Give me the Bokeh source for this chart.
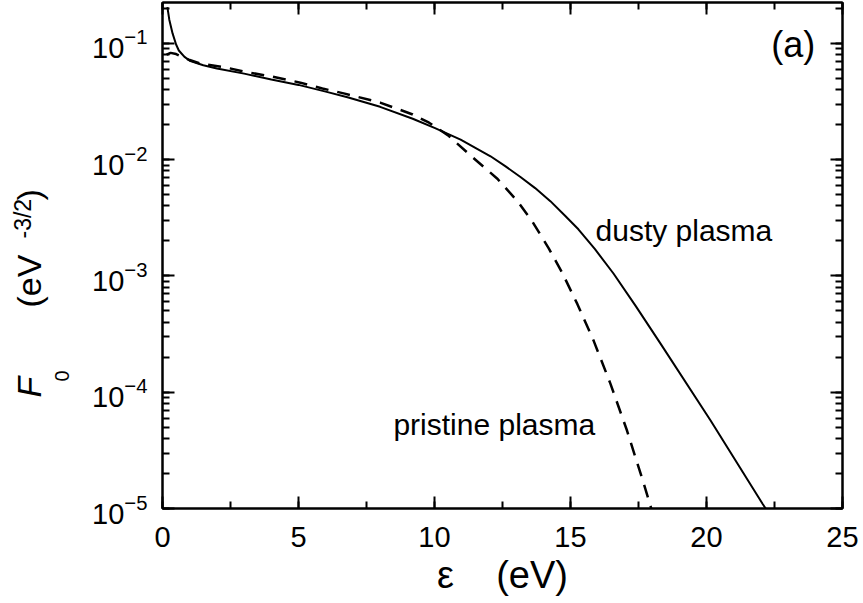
import math
from bokeh.plotting import figure
from bokeh.layouts import row
from bokeh.models import (Label, LinearAxis, LogAxis, SingleIntervalTicker,
                          LogTicker, Range1d, CustomJSTickFormatter)
from bokeh.embed import file_html
from bokeh.resources import INLINE

# ---- data ----
dusty_e = [0.18, 0.25, 0.37, 0.5, 0.6, 0.8, 1.0, 1.5, 2.0, 3.0, 4.0, 5.0,
           6.0, 6.8, 8.0, 9.2, 10.0, 10.96, 12.06, 12.6, 13.16, 13.7, 14.26,
           14.8, 15.29, 15.9, 16.58, 17.4, 18.31, 20.15, 22.06, 22.2]
dusty_f = [0.205, 0.16, 0.122, 0.098, 0.087, 0.077, 0.071, 0.065, 0.061,
           0.055, 0.049, 0.044, 0.0385, 0.0345, 0.0285, 0.0225, 0.0188,
           0.0149, 0.0107, 0.0088, 0.0071, 0.0057, 0.0044, 0.0033, 0.00252,
           0.00170, 0.00105, 0.00055, 0.000262, 0.0000571, 0.0000110,
           0.0000098]

prist_e = [0.15, 0.3, 0.5, 0.7, 1.0, 1.4, 2.24, 3.1, 4.0, 5.07, 5.88, 6.7,
           8.0, 9.2, 9.8, 10.5, 11.4, 12.3, 13.05, 13.6, 14.2, 14.7, 15.25,
           15.86, 16.47, 17.08, 17.7, 17.97]
prist_f = [0.080, 0.083, 0.081, 0.077, 0.072, 0.067, 0.0627, 0.0567, 0.052,
           0.046, 0.041, 0.037, 0.031, 0.0245, 0.0208, 0.0162, 0.0105,
           0.0069, 0.0044, 0.00293, 0.00173, 0.00106, 0.000575, 0.000274,
           0.000118, 0.0000466, 0.0000162, 0.00001]

x_start, x_end = 0, 25
y_start, y_end = 1e-5, 0.225
x_tick_interval = 5

FONT = "Liberation Sans"
LAB_W = 80
TOP_B, BOT_B = 2, 94
H = 602

p = figure(width=862 - LAB_W, height=H, y_axis_type="log",
           x_range=Range1d(x_start, x_end), y_range=Range1d(y_start, y_end),
           output_backend="svg", toolbar_location=None,
           min_border_left=162 - LAB_W, min_border_right=20,
           min_border_top=TOP_B, min_border_bottom=BOT_B)

p.xgrid.visible = False
p.ygrid.visible = False
p.outline_line_color = "black"
p.outline_line_width = 2
p.background_fill_color = "white"
p.border_fill_color = "white"

blank = CustomJSTickFormatter(code="return '';")


def style_axis(ax, show_labels=True):
    ax.axis_line_color = "black"
    ax.axis_line_width = 2
    ax.major_tick_in = 12
    ax.major_tick_out = 0
    ax.minor_tick_in = 7
    ax.minor_tick_out = 0
    ax.major_tick_line_color = "black"
    ax.minor_tick_line_color = "black"
    ax.major_tick_line_width = 2
    ax.minor_tick_line_width = 2
    ax.major_label_text_font = FONT
    ax.major_label_text_color = "black"
    if show_labels:
        ax.major_label_text_font_size = "29px"
    else:
        ax.formatter = blank
        ax.major_label_text_font_size = "1px"
        ax.major_label_standoff = 0


xa = p.xaxis[0]
xa.ticker = SingleIntervalTicker(interval=x_tick_interval, num_minor_ticks=2)
style_axis(xa)
xa.major_label_standoff = 18
xa.axis_label = "\u03b5\u00a0\u00a0\u00a0\u00a0(eV)"
xa.axis_label_text_font = FONT
xa.axis_label_text_font_size = "38px"
xa.axis_label_text_font_style = "normal"
xa.axis_label_text_color = "black"
xa.axis_label_standoff = 4

ya = p.yaxis[0]
ya.ticker = LogTicker(num_minor_ticks=10)
style_axis(ya)
ya.major_label_standoff = 15

top = LinearAxis(ticker=SingleIntervalTicker(interval=x_tick_interval,
                                             num_minor_ticks=2))
style_axis(top, show_labels=False)
p.add_layout(top, "above")

right = LogAxis(ticker=LogTicker(num_minor_ticks=10))
style_axis(right, show_labels=False)
p.add_layout(right, "right")

# ---- curves ----
p.line(dusty_e, dusty_f, line_color="black", line_width=2)
p.line(prist_e, prist_f, line_color="black", line_width=2.5,
       line_dash="13 9")

# ---- annotations ----
p.add_layout(Label(x=15.92, y=2.46e-3, text="dusty plasma", text_font=FONT,
                   text_font_size="30px", text_color="black",
                   text_baseline="middle"))
p.add_layout(Label(x=8.49, y=5.28e-5, text="pristine plasma", text_font=FONT,
                   text_font_size="30px", text_color="black",
                   text_baseline="middle"))
p.add_layout(Label(x=24.0, y=0.098, text="(a)", text_font=FONT,
                   text_font_size="36px", text_color="black",
                   text_align="right", text_baseline="middle"))

# ---- y-axis title in a narrow strip left of the plot (page pixel units) ----
# the strip's frame is aligned with the main frame (page y 2 .. 508)
lab = figure(width=LAB_W, height=H, x_range=Range1d(0, LAB_W),
             y_range=Range1d(H - BOT_B, TOP_B), x_axis_location=None,
             y_axis_location=None, output_backend="svg",
             toolbar_location=None, min_border_left=0, min_border_right=0,
             min_border_top=TOP_B, min_border_bottom=BOT_B)
lab.xgrid.visible = False
lab.ygrid.visible = False
lab.outline_line_color = None
lab.background_fill_color = "white"
lab.border_fill_color = "white"

ang = math.pi / 2
ylabel_parts = [
    ("F", 28, 397, "34px", "italic"),
    ("0", 61, 381, "20px", "normal"),
    ("(eV", 28, 307, "34px", "normal"),
    ("-3/2", 22, 238, "23px", "normal"),
    (")", 28, 200, "34px", "normal"),
]
for txt, sx, sy, fs, style in ylabel_parts:
    lab.add_layout(Label(x=sx, y=sy, text=txt, angle=ang, text_font=FONT,
                         text_font_size=fs, text_font_style=style,
                         text_color="black", text_align="left",
                         text_baseline="middle"))

layout = row(lab, p, spacing=0)
open("out.html", "w").write(file_html(layout, INLINE))
